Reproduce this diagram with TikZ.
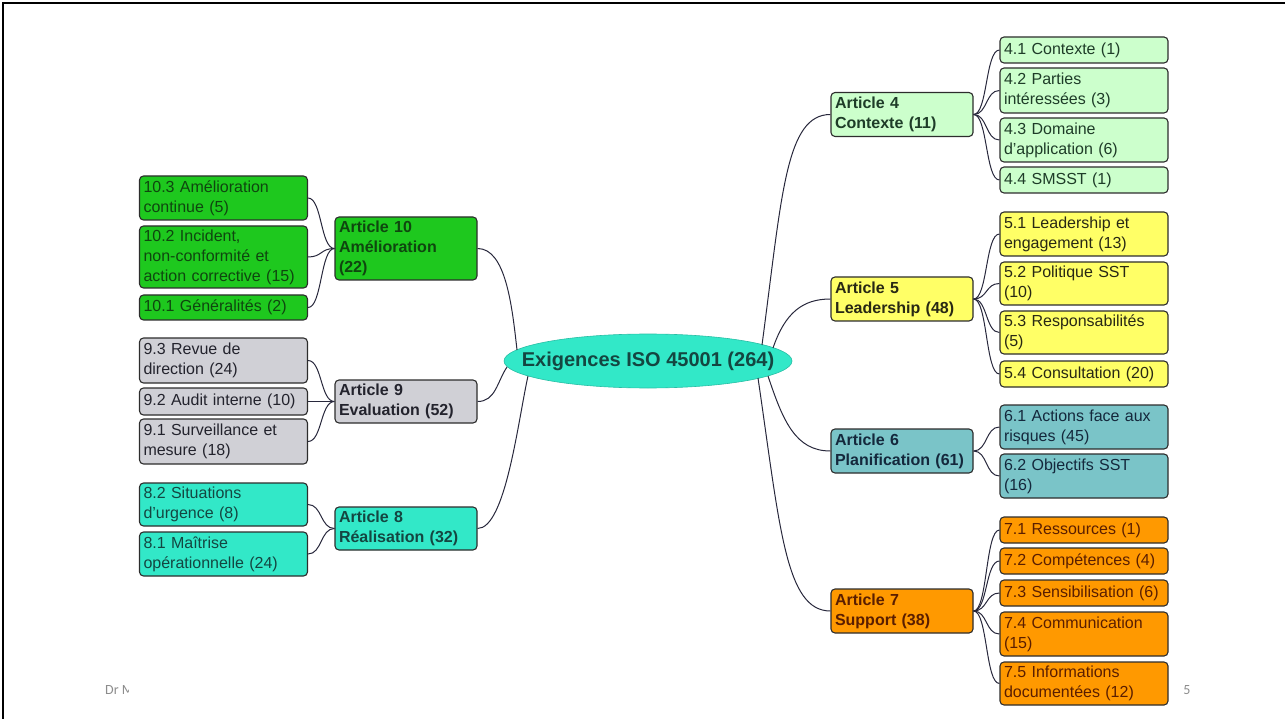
\documentclass[tikz,border=0pt]{standalone}
\usepackage{fontspec}
\setmainfont{Liberation Sans}
\newfontfamily\footfont{Carlito}
\usetikzlibrary{shapes.geometric}
\definecolor{bordc}{RGB}{45,45,45}
\definecolor{linec}{RGB}{40,40,60}
\definecolor{grnF}{RGB}{30,200,30}\definecolor{grnT}{RGB}{15,70,15}
\definecolor{gryF}{RGB}{208,208,214}\definecolor{gryT}{RGB}{35,35,45}
\definecolor{aquF}{RGB}{50,232,200}\definecolor{aquT}{RGB}{20,70,65}
\definecolor{ellD}{RGB}{40,190,165}
\definecolor{lgrF}{RGB}{204,255,204}\definecolor{lgrT}{RGB}{30,60,40}
\definecolor{yelF}{RGB}{255,255,102}\definecolor{yelT}{RGB}{40,40,20}
\definecolor{tealF}{RGB}{122,196,200}\definecolor{tealT}{RGB}{20,40,60}
\definecolor{orgF}{RGB}{255,153,0}\definecolor{orgT}{RGB}{90,30,0}
\definecolor{footc}{RGB}{140,140,140}
\begin{document}
\begin{tikzpicture}[x=1pt,y=-1pt,
  box/.style={draw=bordc,line width=1.1pt,rounded corners=4pt,inner xsep=4pt,inner ysep=0pt,
    align=left,font=\fontsize{16}{20}\selectfont,anchor=center},
  leaf/.style={box,minimum width=168pt,text width=160pt},
  art/.style={box,minimum width=142pt,text width=134pt,font=\fontsize{16}{20}\selectfont\bfseries},
  conn/.style={draw=linec,line width=1pt},
  h/.style={minimum height=#1 pt}]
\useasboundingbox (0,0) rectangle (1285,719);
\draw[line width=2pt] (3,719) -- (3,3) -- (1285,3);

% center
\node[ellipse,draw=ellD,line width=0.6pt,fill=aquF,minimum width=288pt,minimum height=54pt,inner sep=0pt] (c) at (648,361) {};
\node[font=\fontsize{20}{24}\selectfont\bfseries,text=aquT,inner sep=0pt] (ct) at (c.center) {Exigences ISO 45001 (264)};
\coordinate (e4) at (762,345);
\coordinate (e5) at (773,348);
\coordinate (e6) at (768,376);
\coordinate (e7) at (758,378);
\coordinate (e10) at (517,350);
\coordinate (e9) at (507,367);
\coordinate (e8) at (528,376);

% Article 4
\node[art,h=44,fill=lgrF,text=lgrT] (a4) at (902,114.5) {Article 4\\Contexte (11)};
\node[leaf,h=26,fill=lgrF,text=lgrT] (n41) at (1084,50) {4.1 Contexte (1)};
\node[leaf,h=45,fill=lgrF,text=lgrT] (n42) at (1084,90.5) {4.2 Parties\\intéressées (3)};
\node[leaf,h=44,fill=lgrF,text=lgrT] (n43) at (1084,140) {4.3 Domaine\\d'application (6)};
\node[leaf,h=26,fill=lgrF,text=lgrT] (n44) at (1084,180) {4.4 SMSST (1)};
% Article 5
\node[art,h=44,fill=yelF,text=yelT] (a5) at (902,299) {Article 5\\Leadership (48)};
\node[leaf,h=44,fill=yelF,text=yelT] (n51) at (1084,234) {5.1 Leadership et\\engagement (13)};
\node[leaf,h=43,fill=yelF,text=yelT] (n52) at (1084,283.5) {5.2 Politique SST\\(10)};
\node[leaf,h=43,fill=yelF,text=yelT] (n53) at (1084,332.5) {5.3 Responsabilités\\(5)};
\node[leaf,h=26,fill=yelF,text=yelT] (n54) at (1084,374) {5.4 Consultation (20)};
% Article 6
\node[art,h=44,fill=tealF,text=tealT] (a6) at (902,451) {Article 6\\Planification (61)};
\node[leaf,h=44,fill=tealF,text=tealT] (n61) at (1084,427) {6.1 Actions face aux\\risques (45)};
\node[leaf,h=44,fill=tealF,text=tealT] (n62) at (1084,476) {6.2 Objectifs SST\\(16)};
% Article 7
\node[art,h=44,fill=orgF,text=orgT] (a7) at (902,611) {Article 7\\Support (38)};
\node[leaf,h=26,fill=orgF,text=orgT] (n71) at (1084,530) {7.1 Ressources (1)};
\node[leaf,h=26,fill=orgF,text=orgT] (n72) at (1084,561) {7.2 Compétences (4)};
\node[leaf,h=26,fill=orgF,text=orgT] (n73) at (1084,593) {7.3 Sensibilisation (6)};
\node[leaf,h=44,fill=orgF,text=orgT] (n74) at (1084,634) {7.4 Communication\\(15)};
\node[leaf,h=43,fill=orgF,text=orgT] (n75) at (1084,683.5) {7.5 Informations\\documentées (12)};
% Article 10
\node[art,h=63,fill=grnF,text=grnT] (a10) at (406,248.5) {Article 10\\Amélioration\\(22)};
\node[leaf,minimum width=167pt,h=44,fill=grnF,text=grnT] (n103) at (223.5,198) {10.3 Amélioration\\continue (5)};
\node[leaf,minimum width=167pt,h=62,fill=grnF,text=grnT] (n102) at (223.5,257) {10.2 Incident,\\non-conformité et\\action corrective (15)};
\node[leaf,minimum width=167pt,h=25,fill=grnF,text=grnT] (n101) at (223.5,307.5) {10.1 Généralités (2)};
% Article 9
\node[art,h=43,fill=gryF,text=gryT] (a9) at (406,401.5) {Article 9\\Evaluation (52)};
\node[leaf,minimum width=167pt,h=45,fill=gryF,text=gryT] (n93) at (223.5,360.5) {9.3 Revue de\\direction (24)};
\node[leaf,minimum width=167pt,h=27,fill=gryF,text=gryT] (n92) at (223.5,401.5) {9.2 Audit interne (10)};
\node[leaf,minimum width=167pt,h=45,fill=gryF,text=gryT] (n91) at (223.5,441.5) {9.1 Surveillance et\\mesure (18)};
% Article 8
\node[art,h=43,fill=aquF,text=aquT] (a8) at (406,528.5) {Article 8\\Réalisation (32)};
\node[leaf,minimum width=167pt,h=43,fill=aquF,text=aquT] (n82) at (223.5,504.5) {8.2 Situations\\d'urgence (8)};
\node[leaf,minimum width=167pt,h=44,fill=aquF,text=aquT] (n81) at (223.5,554) {8.1 Maîtrise\\opérationnelle (24)};

% connectors center -> articles
\draw[conn] (e4) .. controls +(20,-150) and +(-45,0) .. (a4.west);
\draw[conn] (e5) .. controls +(12,-35) and +(-28,0) .. (a5.west);
\draw[conn] (e6) .. controls +(15,45) and +(-35,0) .. (a6.west);
\draw[conn] (e7) .. controls +(22,150) and +(-45,0) .. (a7.west);
\draw[conn] (a10.east) .. controls +(28,0) and +(-5,-45) .. (e10);
\draw[conn] (a9.east) .. controls +(18,0) and +(-10,15) .. (e9);
\draw[conn] (a8.east) .. controls +(28,0) and +(-10,45) .. (e8);

% article -> children (right)
\foreach \p/\k in {a4/n41,a4/n42,a4/n43,a4/n44,a5/n51,a5/n52,a5/n53,a5/n54,a6/n61,a6/n62,a7/n71,a7/n72,a7/n73,a7/n74,a7/n75}
  \draw[conn] (\p.east) .. controls +(14,0) and +(-14,0) .. (\k.west);
% children -> article (left)
\foreach \p/\k in {a10/n103,a10/n102,a10/n101,a9/n93,a9/n92,a9/n91,a8/n82,a8/n81}
  \draw[conn] (\k.east) .. controls +(14,0) and +(-14,0) .. (\p.west);

% footer
\begin{scope}
\clip (95,675) rectangle (128,705);
\node[font=\footfont\fontsize{14}{16}\selectfont,text=footc,anchor=west,inner sep=0pt] (ft) at (105,690) {Dr M};
\end{scope}
\node[font=\footfont\fontsize{14}{16}\selectfont,text=footc,inner sep=0pt] (pg) at (1187,690) {5};
\end{tikzpicture}
\end{document}
